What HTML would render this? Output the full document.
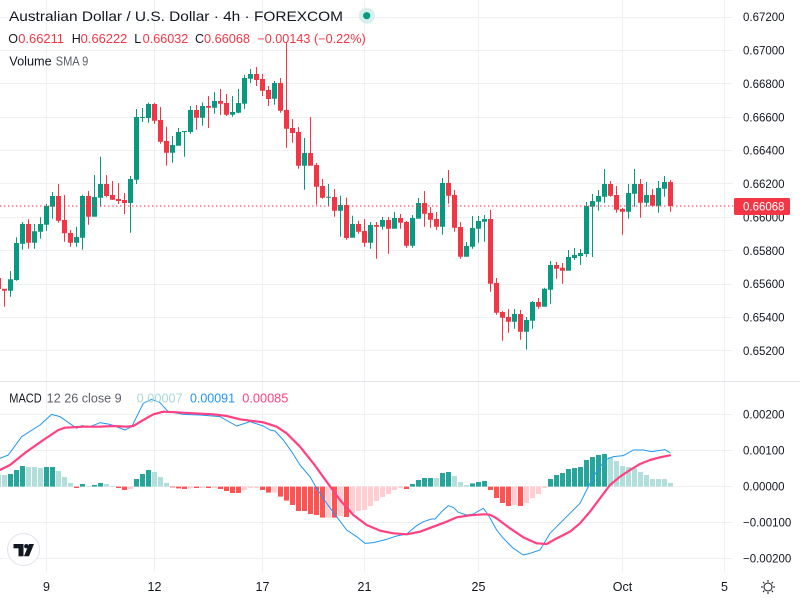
<!DOCTYPE html>
<html><head><meta charset="utf-8">
<style>
html,body{margin:0;padding:0;background:#fff;}
svg{display:block;font-family:"Liberation Sans",sans-serif;}
</style></head>
<body>
<svg width="800" height="600" viewBox="0 0 800 600" xmlns="http://www.w3.org/2000/svg">
<rect width="800" height="600" fill="#fff"/>
<!-- grid -->
<g stroke="#eef0f3" stroke-width="1" fill="none">
<path d="M0 17.5H733M0 50.5H733M0 83.5H733M0 117.5H733M0 150.5H733M0 183.5H733M0 217.5H733M0 250.5H733M0 284.5H733M0 317.5H733M0 350.5H733"/>
<path d="M0 414.5H733M0 450.5H733M0 486.5H733M0 522.5H733M0 558.5H733"/>
<path d="M46.5 0V572M154.5 0V572M262.5 0V572M364.5 0V572M478.5 0V572M622.5 0V572M724.5 0V572"/>
</g>
<path d="M0 381.5H800" stroke="#e0e3eb" stroke-width="1"/>

<!-- candles green -->
<path fill="#089981" d="M8 279.3h5V290.7h-5Z M10 271h1V296.7h-1Z M14 243h5V280h-5Z M16 237.3h1V280.7h-1Z M20 224h5V243.7h-5Z M22 222h1V249.7h-1Z M32 231.3h5V242.7h-5Z M34 224h1V248.7h-1Z M38 224h5V231.7h-5Z M40 217.3h1V238.7h-1Z M44 206h5V224.7h-5Z M46 204h1V230.7h-1Z M50 196h5V206.7h-5Z M52 192h1V218.7h-1Z M74 237h5V242.7h-5Z M76 226.7h1V246.7h-1Z M80 196h5V237.7h-5Z M82 194.7h1V249.7h-1Z M92 197h5V216.7h-5Z M94 175h1V216.7h-1Z M98 184h5V197.7h-5Z M100 156.7h1V206.7h-1Z M128 179h5V203h-5Z M130 176h1V232.7h-1Z M134 117h5V179.7h-5Z M136 109h1V184h-1Z M140 117h5V118h-5Z M142 108h1V122h-1Z M146 104h5V118h-5Z M148 102.7h1V122.7h-1Z M170 145h5V152.7h-5Z M172 136h1V162.7h-1Z M176 132h5V145.7h-5Z M178 128h1V145.7h-1Z M182 131h5V132h-5Z M184 131h1V156.7h-1Z M188 110h5V132h-5Z M190 106h1V133.7h-1Z M200 106h5V117.7h-5Z M202 102.3h1V125.7h-1Z M212 101h5V107.7h-5Z M214 92h1V113.7h-1Z M230 112h5V114.7h-5Z M232 96h1V116.7h-1Z M236 103h5V112.7h-5Z M238 89h1V113.3h-1Z M242 78h5V103.7h-5Z M244 74.7h1V109h-1Z M248 74h5V78.7h-5Z M250 69h1V83h-1Z M272 83h5V98.7h-5Z M274 81h1V104.7h-1Z M302 153h5V165.7h-5Z M304 138h1V189.7h-1Z M326 196.7h5V197.7h-5Z M328 184h1V205.7h-1Z M338 205h5V210.7h-5Z M340 195.7h1V236.7h-1Z M350 224h5V237.7h-5Z M352 215.7h1V237.7h-1Z M368 225h5V242.7h-5Z M370 222h1V248.7h-1Z M380 220h5V226.7h-5Z M382 217h1V229.7h-1Z M392 218h5V228.7h-5Z M394 212h1V228.7h-1Z M410 218h5V245.7h-5Z M412 215h1V247.7h-1Z M416 203h5V218.7h-5Z M418 198h1V218.7h-1Z M440 183h5V226.7h-5Z M442 178h1V234.7h-1Z M464 246h5V256.7h-5Z M466 242h1V256.7h-1Z M470 228h5V246.7h-5Z M472 216h1V248.7h-1Z M476 221h5V228.7h-5Z M478 216h1V242.7h-1Z M482 219h5V221.7h-5Z M484 215h1V241.7h-1Z M512 314h5V321.7h-5Z M514 309h1V328.7h-1Z M524 320h5V331.7h-5Z M526 317h1V349.7h-1Z M530 302h5V320.7h-5Z M532 301h1V328.7h-1Z M542 288.7h5V306.7h-5Z M544 287.7h1V306.7h-1Z M548 265h5V289.7h-5Z M550 261h1V303.7h-1Z M566 257h5V270.7h-5Z M568 250h1V270.7h-1Z M572 255h5V258h-5Z M574 248h1V260h-1Z M578 253h5V256h-5Z M580 249h1V265h-1Z M584 206h5V254h-5Z M586 202h1V257h-1Z M590 201h5V206.7h-5Z M592 194h1V257h-1Z M596 196h5V201.7h-5Z M598 190h1V210.7h-1Z M602 184h5V196.7h-5Z M604 169h1V202.7h-1Z M626 193h5V211.7h-5Z M628 184h1V218.7h-1Z M632 184h5V193.7h-5Z M634 169h1V206.7h-1Z M644 195h5V202.7h-5Z M646 182h1V206.7h-1Z M656 188h5V205.7h-5Z M658 181h1V212.7h-1Z M662 182h5V188.7h-5Z M664 176h1V196.7h-1Z"/>
<!-- candles red -->
<path fill="#f23645" d="M-4 278h5V289h-5Z M2 288.7h5V290.7h-5Z M4 288.7h1V306.7h-1Z M26 224h5V242.7h-5Z M28 219.3h1V248.7h-1Z M56 196h5V220.7h-5Z M58 184h1V222.7h-1Z M62 220h5V233.3h-5Z M64 195h1V241.7h-1Z M68 233h5V242.7h-5Z M70 230h1V246.7h-1Z M86 196h5V216.7h-5Z M88 191h1V224.7h-1Z M104 184h5V196h-5Z M106 175h1V197.3h-1Z M110 195h5V199.7h-5Z M112 181h1V200h-1Z M116 199h5V201h-5Z M118 183h1V204h-1Z M122 200h5V203h-5Z M124 193h1V214h-1Z M152 104h5V120.7h-5Z M154 102.7h1V124h-1Z M158 120h5V141.7h-5Z M160 107h1V143.7h-1Z M164 141h5V152.7h-5Z M166 126.7h1V165.7h-1Z M194 110h5V117.7h-5Z M196 105h1V129.7h-1Z M206 106h5V107.7h-5Z M208 96h1V128h-1Z M218 101h5V103.7h-5Z M220 89h1V115h-1Z M224 103h5V114.7h-5Z M226 94h1V116h-1Z M254 74h5V80h-5Z M256 67h1V86h-1Z M260 79h5V90.7h-5Z M262 74h1V96h-1Z M266 90h5V99h-5Z M268 86h1V106h-1Z M278 83h5V110.7h-5Z M280 78h1V112.7h-1Z M284 110h5V128.7h-5Z M286 42h1V147.7h-1Z M290 128h5V133h-5Z M292 119h1V142.7h-1Z M296 132h5V165.7h-5Z M298 127h1V168.7h-1Z M308 153h5V165.7h-5Z M310 117h1V165.7h-1Z M314 165h5V186.7h-5Z M316 163h1V204.7h-1Z M320 186h5V197.7h-5Z M322 179h1V198.7h-1Z M332 197h5V210.7h-5Z M334 189h1V216.7h-1Z M344 205h5V238h-5Z M346 197.7h1V239.7h-1Z M356 224h5V231.7h-5Z M358 220.7h1V233.7h-1Z M362 231h5V242.7h-5Z M364 219h1V246.7h-1Z M374 225h5V226.7h-5Z M376 222h1V258.7h-1Z M386 220h5V228.7h-5Z M388 217h1V253.7h-1Z M398 218h5V222.7h-5Z M400 214h1V228.7h-1Z M404 222h5V245.7h-5Z M406 221h1V247.7h-1Z M422 203h5V213.7h-5Z M424 191h1V226.7h-1Z M428 213h5V219.7h-5Z M430 207h1V227.7h-1Z M434 219h5V226.7h-5Z M436 212h1V229.7h-1Z M446 183h5V195.7h-5Z M448 170h1V203.7h-1Z M452 195h5V227.7h-5Z M454 190h1V231.7h-1Z M458 227h5V256.7h-5Z M460 222h1V258.7h-1Z M488 219h5V283.7h-5Z M490 210h1V291.7h-1Z M494 283h5V312.7h-5Z M496 278h1V314.7h-1Z M500 312h5V317.7h-5Z M502 311h1V340.7h-1Z M506 317h5V321.7h-5Z M508 309h1V332.7h-1Z M518 314h5V331.7h-5Z M520 310h1V339.7h-1Z M536 302h5V306.7h-5Z M538 298h1V308.7h-1Z M554 265h5V268.7h-5Z M556 262h1V278.7h-1Z M560 267.7h5V270.7h-5Z M562 263h1V283.7h-1Z M608 184h5V195.7h-5Z M610 181h1V196.7h-1Z M614 195h5V209.7h-5Z M616 186h1V212.7h-1Z M620 209h5V211.7h-5Z M622 208h1V234.7h-1Z M638 184h5V202.7h-5Z M640 179h1V217.7h-1Z M650 195h5V205.7h-5Z M652 189h1V206.7h-1Z M668 182h5V206h-5Z M670 180h1V211.7h-1Z"/>

<!-- current price dotted line -->
<path d="M0 206H733" stroke="#f23645" stroke-width="1" stroke-dasharray="1.5 2.5"/>

<!-- MACD histogram -->
<g transform="translate(0 380) scale(1 0.333333)">
<path fill="#26a69a" d="M8 282h5V320h-5Z M14 270h5V320h-5Z M20 258h5V320h-5Z M44 261h5V320h-5Z M50 261h5V320h-5Z M80 312h5V320h-5Z M92 315h5V320h-5Z M98 309h5V320h-5Z M134 297h5V320h-5Z M140 282h5V320h-5Z M146 270h5V320h-5Z M410 312h5V320h-5Z M416 300h5V320h-5Z M422 294h5V320h-5Z M428 294h5V320h-5Z M440 279h5V320h-5Z M446 276h5V320h-5Z M470 310h5V320h-5Z M476 306h5V320h-5Z M482 303h5V320h-5Z M548 297h5V320h-5Z M554 285h5V320h-5Z M560 279h5V320h-5Z M566 267h5V320h-5Z M572 264h5V320h-5Z M578 261h5V320h-5Z M584 240h5V320h-5Z M590 231h5V320h-5Z M596 225h5V320h-5Z M602 222h5V320h-5Z"/>
<path fill="#b2dfdb" d="M-4 283h5V320h-5Z M2 285h5V320h-5Z M26 261h5V320h-5Z M32 261h5V320h-5Z M38 264h5V320h-5Z M56 273h5V320h-5Z M62 291h5V320h-5Z M68 309h5V320h-5Z M86 318h5V320h-5Z M104 312h5V320h-5Z M110 318h5V320h-5Z M152 276h5V320h-5Z M158 291h5V320h-5Z M164 309h5V320h-5Z M434 294h5V320h-5Z M452 288h5V320h-5Z M458 306h5V320h-5Z M464 315h5V320h-5Z M608 231h5V320h-5Z M614 243h5V320h-5Z M620 258h5V320h-5Z M626 261h5V320h-5Z M632 264h5V320h-5Z M638 276h5V320h-5Z M644 285h5V320h-5Z M650 297h5V320h-5Z M656 297h5V320h-5Z M662 297h5V320h-5Z M668 309h5V320h-5Z"/>
<path fill="#ff5252" d="M74 320h5V324h-5Z M116 320h5V324h-5Z M122 320h5V330h-5Z M170 320h5V322h-5Z M176 320h5V325h-5Z M182 320h5V327h-5Z M194 320h5V324h-5Z M206 320h5V324h-5Z M218 320h5V327h-5Z M224 320h5V333h-5Z M230 320h5V339h-5Z M236 320h5V339h-5Z M260 320h5V330h-5Z M266 320h5V338h-5Z M278 320h5V350h-5Z M284 320h5V362h-5Z M290 320h5V375h-5Z M296 320h5V393h-5Z M302 320h5V393h-5Z M308 320h5V402h-5Z M314 320h5V405h-5Z M320 320h5V413h-5Z M332 320h5V413h-5Z M344 320h5V411h-5Z M404 320h5V327h-5Z M488 320h5V330h-5Z M494 320h5V354h-5Z M500 320h5V369h-5Z M506 320h5V378h-5Z M518 320h5V378h-5Z"/>
<path fill="#ffcdd2" d="M128 320h5V327h-5Z M188 320h5V325h-5Z M200 320h5V324h-5Z M212 320h5V324h-5Z M242 320h5V330h-5Z M248 320h5V324h-5Z M254 320h5V324h-5Z M272 320h5V338h-5Z M326 320h5V413h-5Z M338 320h5V408h-5Z M350 320h5V400h-5Z M356 320h5V393h-5Z M362 320h5V390h-5Z M368 320h5V378h-5Z M374 320h5V363h-5Z M380 320h5V351h-5Z M386 320h5V342h-5Z M392 320h5V330h-5Z M398 320h5V324h-5Z M512 320h5V375h-5Z M524 320h5V369h-5Z M530 320h5V354h-5Z M536 320h5V342h-5Z M542 320h5V324h-5Z"/>
</g>

<!-- MACD lines -->
<g transform="translate(0 380) scale(0.333333)" fill="none" stroke-linejoin="round" stroke-linecap="round">
<polyline vector-effect="non-scaling-stroke" stroke="#2196f3" stroke-width="1" points="0,235 25,225 65,170 120,135 155,103 180,110 230,145 245,137 270,140 300,128 330,133 375,150 395,140 410,110 430,70 455,58 480,68 505,95 550,103 600,105 660,110 710,138 750,125 790,138 810,150 825,153 850,180 875,215 900,255 930,290 950,325 980,370 1010,410 1040,450 1070,470 1095,490 1120,488 1160,478 1190,468 1220,462 1250,437 1270,425 1295,417 1305,417 1325,395 1345,377 1360,382 1375,397 1400,405 1420,402 1450,385 1465,405 1490,450 1510,475 1540,505 1570,525 1590,520 1620,510 1650,460 1680,430 1710,400 1740,370 1760,330 1780,290 1800,260 1820,238 1840,230 1870,227 1900,210 1930,210 1955,215 1975,212 1995,209 2010,218"/>
<polyline vector-effect="non-scaling-stroke" stroke="#ff4081" stroke-width="2.2" points="0,270 30,255 80,215 130,180 175,150 195,143 250,140 300,140 340,138 380,140 400,138 430,120 460,103 490,95 530,97 580,100 640,103 680,108 720,118 750,122 790,127 830,140 860,160 900,200 940,250 980,305 1020,360 1060,405 1100,435 1140,452 1180,460 1220,463 1260,455 1300,440 1340,425 1370,412 1410,406 1450,403 1470,404 1490,415 1530,445 1570,472 1610,490 1640,492 1670,475 1710,455 1740,430 1770,395 1800,355 1830,315 1860,290 1890,270 1920,252 1950,240 1980,232 2010,226"/>
</g>

<!-- Header legend -->
<text x="9" y="21" font-size="14" fill="#131722" textLength="334" lengthAdjust="spacingAndGlyphs">Australian Dollar / U.S. Dollar · 4h · FOREXCOM</text>
<circle cx="366.7" cy="15.7" r="8" fill="#d6efea"/>
<circle cx="366.7" cy="15.7" r="3.6" fill="#089981"/>
<g font-size="12.5">
<text x="8.3" y="43" fill="#131722">O</text>
<text x="18.3" y="43" fill="#f23645" textLength="45.7" lengthAdjust="spacingAndGlyphs">0.66211</text>
<text x="71.7" y="43" fill="#131722">H</text>
<text x="80.7" y="43" fill="#f23645" textLength="46.6" lengthAdjust="spacingAndGlyphs">0.66222</text>
<text x="134.3" y="43" fill="#131722">L</text>
<text x="142.7" y="43" fill="#f23645" textLength="45.6" lengthAdjust="spacingAndGlyphs">0.66032</text>
<text x="195" y="43" fill="#131722">C</text>
<text x="204" y="43" fill="#f23645" textLength="46" lengthAdjust="spacingAndGlyphs">0.66068</text>
<text x="257.3" y="43" fill="#f23645" textLength="108.4" lengthAdjust="spacingAndGlyphs">−0.00143 (−0.22%)</text>
<text x="9.3" y="65.5" fill="#131722" textLength="42.4" lengthAdjust="spacingAndGlyphs">Volume</text>
<text x="55.7" y="65.5" fill="#5d606b" textLength="32.6" lengthAdjust="spacingAndGlyphs">SMA 9</text>
<text x="9.3" y="402.7" fill="#131722" textLength="32.4" lengthAdjust="spacingAndGlyphs">MACD</text>
<text x="46.7" y="402.7" fill="#5d606b" textLength="75" lengthAdjust="spacingAndGlyphs">12 26 close 9</text>
<text x="136.7" y="402.7" fill="#a8dad4" textLength="46" lengthAdjust="spacingAndGlyphs">0.00007</text>
<text x="190" y="402.7" fill="#2196f3" textLength="45" lengthAdjust="spacingAndGlyphs">0.00091</text>
<text x="242.3" y="402.7" fill="#ff4081" textLength="46" lengthAdjust="spacingAndGlyphs">0.00085</text>
</g>

<!-- Price axis -->
<g font-size="11.5" fill="#131722">
<text x="743" y="21">0.67200</text>
<text x="743" y="54.5">0.67000</text>
<text x="743" y="88">0.66800</text>
<text x="743" y="121.3">0.66600</text>
<text x="743" y="154.7">0.66400</text>
<text x="743" y="188">0.66200</text>
<text x="743" y="221.4">0.66000</text>
<text x="743" y="254.8">0.65800</text>
<text x="743" y="288.2">0.65600</text>
<text x="743" y="321.5">0.65400</text>
<text x="743" y="354.9">0.65200</text>
<text x="743" y="418.5">0.00200</text>
<text x="743" y="454.5">0.00100</text>
<text x="743" y="490.5">0.00000</text>
<text x="743" y="526.5">−0.00100</text>
<text x="743" y="562.5">−0.00200</text>
</g>
<rect x="734" y="198" width="56" height="17" rx="1.5" fill="#f23645"/>
<text x="743" y="210.5" font-size="11.5" fill="#fff">0.66068</text>

<!-- Time axis -->
<g font-size="12.5" fill="#131722" text-anchor="middle">
<text x="46.5" y="591">9</text>
<text x="154.5" y="591">12</text>
<text x="262.5" y="591">17</text>
<text x="364.5" y="591">21</text>
<text x="478.5" y="591">25</text>
<text x="622.5" y="591">Oct</text>
<text x="724.5" y="591">5</text>
</g>
<!-- settings sun icon -->
<g stroke="#131722" stroke-width="1" fill="none" transform="translate(768 587)">
<circle r="4"/>
<path d="M0 -7V-5M0 5V7M-7 0H-5M5 0H7M-5 -5L-3.6 -3.6M3.6 3.6L5 5M-5 5L-3.6 3.6M3.6 -3.6L5 -5"/>
</g>

<!-- TV logo -->
<circle cx="23.5" cy="549.5" r="16" fill="#fff" stroke="#e0e3eb" stroke-width="1"/>
<g fill="#131722">
<rect x="13.5" y="544" width="10" height="4.3"/>
<rect x="18.5" y="544" width="5" height="12.3"/>
<circle cx="26.3" cy="546.2" r="2.2"/>
<polygon points="29,544 34,544 29,556.3 24,556.3"/>
</g>
</svg>
</body></html>
